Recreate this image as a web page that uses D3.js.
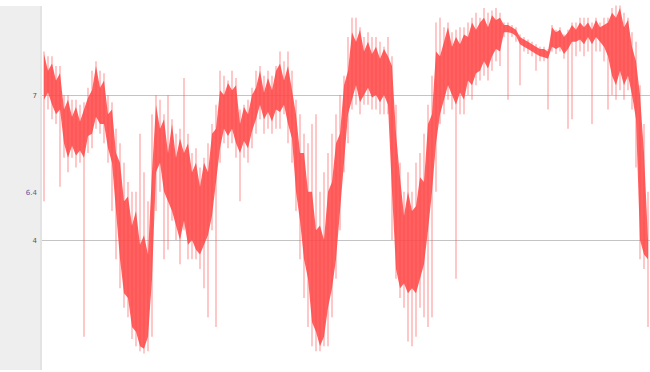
<!DOCTYPE html>
<html>
<head>
<meta charset="utf-8">
<script src="https://cdn.jsdelivr.net/npm/d3@7"></script>
<style>
  html, body { margin: 0; padding: 0; background: #ffffff; }
  svg { display: block; }
</style>
</head>
<body>
<svg id="chart" width="650" height="372"></svg>
<script>
// Readings summarised per time bucket: extreme high, typical high,
// typical low and extreme low of the samples falling in each bucket.
const peak = [
  7.9, 7.8, 7.8, 7.6, 7.6, 7.0, 7.0, 6.9, 6.9, 6.8,
  6.85, 7.15, 7.5, 7.7, 7.5, 7.45, 7.0, 6.85, 6.3, 6.0,
  5.6, 5.2, 5.0, 5.0, 6.2, 5.4, 4.8, 6.6, 7.0, 6.9,
  6.6, 7.0, 6.5, 6.2, 6.3, 7.35, 6.2, 5.8, 5.9, 5.5,
  5.7, 6.0, 6.4, 6.8, 7.5, 7.4, 7.3, 7.5, 7.35, 6.7,
  6.8, 6.9, 7.15, 7.5, 7.6, 7.4, 7.5, 7.4, 7.6, 7.9,
  7.7, 7.9, 7.5, 6.9, 6.6, 6.2, 6.0, 6.4, 6.6, 5.0,
  5.4, 5.8, 6.2, 6.6, 7.0, 7.4, 8.2, 8.6, 8.6, 8.4,
  8.2, 8.3, 8.2, 8.2, 8.1, 8.0, 8.2, 7.8, 6.8, 5.6,
  5.0, 5.4, 5.0, 5.6, 5.8, 6.2, 6.8, 7.4, 8.5, 8.6,
  8.4, 8.5, 8.3, 8.35, 8.4, 8.4, 8.5, 8.6, 8.7, 8.6,
  8.8, 8.7, 8.75, 8.8, 8.7, 8.5, 8.5, 8.45, 8.4, 8.25,
  8.2, 8.15, 8.1, 8.05, 8.0, 8.0, 7.95, 8.45, 8.35, 8.4,
  8.25, 8.35, 8.5, 8.5, 8.6, 8.6, 8.6, 8.5, 8.6, 8.5,
  8.6, 8.6, 8.8, 8.85, 8.85, 8.7, 8.6, 8.3, 8.1, 7.2,
  6.4, 5.0
];
const upper = [
  7.85, 7.5, 7.65, 7.3, 7.45, 6.7, 6.9, 6.55, 6.75, 6.45,
  6.7, 6.95, 7.1, 7.6, 7.15, 7.3, 6.6, 6.7, 5.8, 5.6,
  4.8, 4.9, 4.3, 4.6, 3.9, 4.1, 3.7, 5.4, 6.8, 6.3,
  6.5, 5.8, 6.4, 5.7, 6.1, 5.8, 6.0, 5.4, 5.6, 5.1,
  5.6, 5.4, 6.2, 6.3, 7.1, 7.0, 7.25, 7.1, 7.2, 6.4,
  6.75, 6.6, 7.0, 7.15, 7.5, 7.05, 7.35, 7.1, 7.5, 7.65,
  7.3, 7.6, 7.1, 6.6, 5.8, 5.8, 5.0, 5.0, 4.2, 4.3,
  4.0, 5.0, 5.2, 6.0, 6.2, 7.2, 7.5, 8.3, 8.1, 8.35,
  7.9, 8.1, 7.85, 8.0, 7.75, 7.95, 7.8, 7.6, 6.2, 5.3,
  4.5, 5.0, 4.6, 4.7, 5.3, 5.2, 6.4, 6.6, 7.9, 7.8,
  8.1, 8.4, 8.0, 8.2, 8.05, 8.25, 8.2, 8.5, 8.35, 8.5,
  8.6, 8.4, 8.65, 8.55, 8.6, 8.45, 8.45, 8.4, 8.35, 8.2,
  8.15, 8.1, 8.05, 8.0, 7.95, 7.95, 7.9, 8.4, 8.3, 8.35,
  8.2, 8.3, 8.45, 8.35, 8.5, 8.4, 8.5, 8.35, 8.55, 8.4,
  8.45, 8.5, 8.7, 8.6, 8.8, 8.4, 8.55, 8.0, 7.7, 7.0,
  5.8, 4.0
];
const lower = [
  6.9, 7.05, 6.8, 6.6, 6.7, 6.0, 5.7, 5.95, 5.75, 5.85,
  5.7, 6.15, 6.2, 6.55, 6.4, 6.4, 5.9, 5.6, 4.6, 3.6,
  2.9, 2.8, 2.2, 2.1, 1.8, 1.75, 2.0, 3.2, 5.4, 5.6,
  5.0, 4.8, 4.6, 4.3, 4.0, 4.4, 3.9, 4.0, 3.8, 3.7,
  3.9, 4.1, 4.5, 5.2, 5.9, 6.3, 6.15, 6.3, 6.0, 5.8,
  6.05, 5.9, 6.25, 6.5, 6.8, 6.5, 6.65, 6.45, 6.7, 6.65,
  6.8, 6.4, 6.1, 5.0, 4.4, 3.6, 3.2, 2.3, 2.1, 1.8,
  2.0, 2.6, 3.0, 3.6, 4.6, 5.6, 6.6, 6.9, 7.2, 6.85,
  7.0, 7.15, 6.95, 7.0, 6.85, 7.0, 6.8, 5.0, 3.4, 3.0,
  3.1, 2.9, 3.0, 2.9, 3.2, 3.5, 4.2, 5.0, 6.0, 6.6,
  6.9, 7.2, 7.0, 6.8, 7.05, 6.9, 7.3, 7.2, 7.45, 7.5,
  7.7, 7.55, 7.8, 7.95, 7.9, 8.3, 8.3, 8.28, 8.22, 8.05,
  8.0, 7.95, 7.9, 7.85, 7.8, 7.78, 7.75, 8.0, 7.95, 8.0,
  7.85, 7.95, 8.1, 8.1, 8.15, 8.05, 8.2, 8.05, 8.2, 8.1,
  8.0, 7.8, 7.4, 7.2, 7.5, 7.2, 7.4, 7.0, 6.5, 4.0,
  3.7, 3.6
];
const trough = [
  4.8, 6.7, 6.5, 6.4, 5.1, 5.7, 5.4, 5.7, 5.5, 5.6,
  2.0, 5.8, 5.9, 6.3, 6.2, 6.0, 5.6, 4.6, 3.6, 3.0,
  2.6, 2.4, 1.95, 1.8, 1.7, 1.65, 1.7, 2.0, 4.6, 5.0,
  3.6, 3.8, 4.4, 4.0, 3.5, 4.2, 3.6, 3.6, 3.6, 3.4,
  3.0, 2.4, 4.2, 2.2, 5.6, 6.0, 5.9, 6.0, 5.7, 4.8,
  5.7, 5.6, 5.9, 6.2, 6.5, 6.2, 6.3, 6.2, 6.3, 6.3,
  6.6, 6.0, 5.6, 4.6, 3.6, 2.8, 2.2, 1.8, 1.7, 1.7,
  1.8, 1.8, 2.4, 3.2, 4.2, 5.4, 6.0, 6.7, 6.8, 6.6,
  6.8, 6.8, 6.7, 6.7, 6.6, 6.6, 6.6, 4.0, 3.2, 2.8,
  2.6, 1.9, 1.8, 2.0, 2.6, 2.4, 2.2, 2.4, 5.0, 6.4,
  6.6, 6.9, 6.7, 3.2, 6.6, 6.6, 7.0, 6.9, 7.2, 7.3,
  7.4, 7.3, 7.5, 7.7, 7.6, 8.2, 6.9, 8.2, 8.1, 7.2,
  7.9, 7.85, 7.8, 7.5, 7.7, 7.7, 6.7, 7.9, 7.85, 7.9,
  7.75, 6.3, 6.5, 7.8, 7.9, 7.8, 7.9, 6.4, 7.9, 7.9,
  7.7, 6.7, 7.0, 6.9, 7.1, 6.9, 7.1, 6.7, 5.5, 3.6,
  3.4, 2.2
];

// Axis labels
const primaryTicks = [7, 4];
const secondaryTicks = [6.4];

const width = 650, height = 372;
const plot = { left: 42, right: 650, top: 5, bottom: 370 };

const svg = d3.select("#chart");

// Gray label panel on the left
svg.append("rect")
  .attr("x", 0).attr("y", 6)
  .attr("width", 40).attr("height", 364)
  .attr("fill", "#eeeeee");
svg.append("rect")
  .attr("x", 40).attr("y", 6)
  .attr("width", 2).attr("height", 364)
  .attr("fill", "#e3e3e3");

const buckets = d3.range(upper.length);

const x = d3.scaleBand()
  .domain(buckets)
  .range([plot.left, plot.right])
  .padding(0);

const cx = i => x(i) + x.bandwidth() / 2;

const y = d3.scaleLinear()
  .domain([1.31, 8.862])
  .range([plot.bottom, plot.top]);

// Secondary scale (right-hand series, labelled in blue)
const y2 = d3.scaleLinear()
  .domain([5.4, 7.452])
  .range([plot.bottom, plot.top]);

// Horizontal gridlines
const grid = svg.append("g")
  .attr("transform", `translate(${plot.left},0)`)
  .call(d3.axisLeft(y)
    .tickValues(primaryTicks)
    .tickSize(-(width - plot.left))
    .tickFormat(""));
grid.select(".domain").remove();
grid.selectAll(".tick line")
  .attr("stroke", "#c4c4c4")
  .attr("stroke-width", 1);

const data = svg.append("g");

// Extremes of each bucket as thin rules
data.selectAll("line.range")
  .data(buckets)
  .join("line")
  .attr("class", "range")
  .attr("x1", cx).attr("x2", cx)
  .attr("y1", i => y(peak[i]))
  .attr("y2", i => y(trough[i]))
  .attr("stroke", "#ff6464")
  .attr("stroke-opacity", 0.5)
  .attr("stroke-width", 1.4);

// Typical range of each bucket as a dense band
const band = d3.area()
  .x(i => cx(i))
  .y0(i => y(lower[i]))
  .y1(i => y(upper[i]))
  .curve(d3.curveLinear);

data.append("path")
  .datum(buckets)
  .attr("d", band)
  .attr("fill", "#ff4646")
  .attr("fill-opacity", 0.86);

// Primary axis labels
const yAxis = svg.append("g")
  .attr("transform", `translate(${plot.left - 5},0)`)
  .call(d3.axisLeft(y)
    .tickValues(primaryTicks)
    .tickSize(0)
    .tickPadding(0)
    .tickFormat(d3.format("d")));
yAxis.select(".domain").remove();
yAxis.selectAll("text")
  .attr("fill", "#555555")
  .style("font-family", "'DejaVu Sans', sans-serif")
  .style("font-size", "7px");

// Secondary axis label
const y2Axis = svg.append("g")
  .attr("transform", `translate(${plot.left - 5},0)`)
  .call(d3.axisLeft(y2)
    .tickValues(secondaryTicks)
    .tickSize(0)
    .tickPadding(0)
    .tickFormat(d3.format(".1f")));
y2Axis.select(".domain").remove();
y2Axis.selectAll("text")
  .attr("fill", "#5a5aa8")
  .style("font-family", "'DejaVu Sans', sans-serif")
  .style("font-size", "7px");
</script>
</body>
</html>
